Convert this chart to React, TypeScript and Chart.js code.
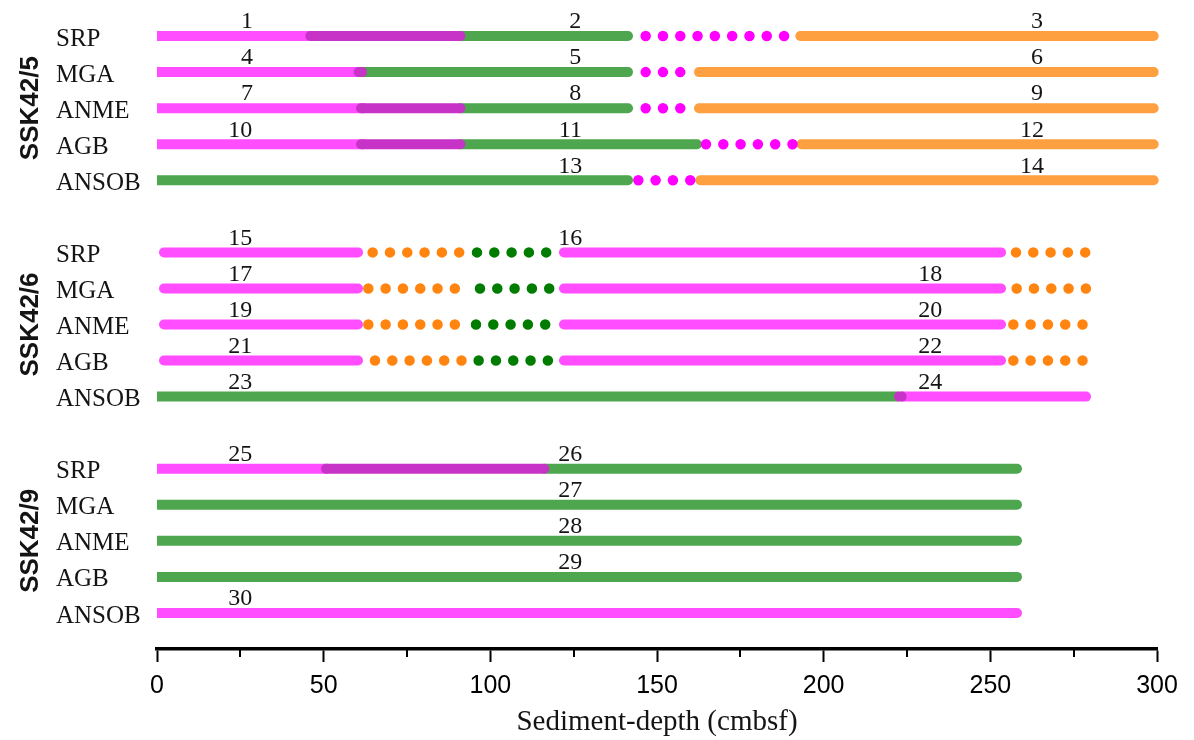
import React, { useEffect, useRef } from "react";
import { Chart, registerables } from "chart.js";

Chart.register(...registerables);

// ---- categories / labels ----
const rowNames = ["SRP", "MGA", "ANME", "AGB", "ANSOB"];
const groupNames = ["SSK42/5", "SSK42/6", "SSK42/9"];
const groupFirstRows = [0, 6, 12];
const groupCenterRows = [2, 8, 14];

// ---- x axis ticks ----
const majorTicks = [0, 50, 100, 150, 200, 250, 300];
const minorTicks = [25, 75, 125, 175, 225, 275];

// ---- segments: [row, startDepth, endDepth] ----
const pinkSegments = [
  [0, 0, 46],
  [1, 0, 61],
  [2, 0, 62],
  [3, 0, 62],
  [6, 2.1, 60.3],
  [6, 122.1, 253.2],
  [7, 2.1, 60.3],
  [7, 122.1, 253.2],
  [8, 2.1, 60.3],
  [8, 122.1, 253.2],
  [9, 2.1, 60.3],
  [9, 122.1, 253.2],
  [10, 223.6, 278.7],
  [12, 0, 51],
  [16, 0, 258],
];
const purpleSegments = [
  [0, 46, 91],
  [1, 60.5, 61.5],
  [2, 61.2, 91],
  [3, 61.2, 91],
  [10, 222.6, 223.4],
  [12, 50.7, 116.2],
];
const greenSegments = [
  [0, 91, 141.3],
  [1, 61.5, 141.3],
  [2, 91, 141.3],
  [3, 91, 162],
  [4, 0, 141.3],
  [10, 0, 222],
  [12, 116.2, 258],
  [13, 0, 258],
  [14, 0, 258],
  [15, 0, 258],
];
const orangeSegments = [
  [0, 193, 299],
  [1, 162.6, 299],
  [2, 162.6, 299],
  [3, 193.3, 299],
  [4, 163, 299],
];
const pinkDots = [
  [0, 146.6, 188.5],
  [1, 146.6, 158],
  [2, 146.6, 158],
  [3, 164.7, 191.5],
  [4, 144.4, 161],
];
const orangeDots = [
  [6, 64.7, 91.2],
  [6, 257.7, 279],
  [7, 63.4, 90],
  [7, 257.9, 279.2],
  [8, 63.4, 90],
  [8, 256.9, 278.2],
  [9, 65.4, 91.8],
  [9, 256.9, 278.2],
];
const greenDots = [
  [6, 96, 117.3],
  [7, 96.9, 118.2],
  [8, 95.7, 117],
  [9, 96.5, 117.8],
];

// ---- numbered annotations ----
const numberTexts = [
  "1", "2", "3", "4", "5", "6", "7", "8", "9", "10",
  "11", "12", "13", "14", "15", "16", "17", "18", "19", "20",
  "21", "22", "23", "24", "25", "26", "27", "28", "29", "30",
];
const numberRows = [
  0, 0, 0, 1, 1, 1, 2, 2, 2, 3,
  3, 3, 4, 4, 6, 6, 7, 7, 8, 8,
  9, 9, 10, 10, 12, 12, 13, 14, 15, 16,
];
const numberDepths = [
  27, 125.5, 264, 27, 125.5, 264, 27, 125.5, 264, 25,
  124, 262.5, 124, 262.5, 25, 124, 25, 232, 25, 232,
  25, 232, 25, 232, 25, 124, 124, 124, 124, 25,
];

// y tick label table built from row names
const yTickLabels: (string | null)[] = [];
for (let i = 0; i <= 16; i++) yTickLabels.push(null);
groupFirstRows.forEach((first) => {
  rowNames.forEach((n, j) => {
    yTickLabels[first + j] = n;
  });
});

const COLORS = {
  pink: "#FF4DFF",
  purple: "#C633C6",
  green: "#4EA64E",
  orange: "#FFA040",
  pinkDot: "#FF00FF",
  orangeDot: "#FF8410",
  greenDot: "#007D00",
};

const LINE_W = 10;
const DOT_W = 10.5;
const DOT_GAP = 17.3;

function makeSets(segs: number[][], color: string, order: number, dotted: boolean) {
  return segs.map((s) => ({
    data: [
      { x: s[1], y: s[0] },
      { x: s[2], y: s[0] },
    ],
    borderColor: color,
    backgroundColor: color,
    borderWidth: dotted ? DOT_W : LINE_W,
    borderCapStyle: "round" as const,
    borderDash: dotted ? [0, DOT_GAP] : [],
    pointRadius: 0,
    pointHoverRadius: 0,
    fill: false,
    tension: 0,
    order,
    clip: { left: 0, top: 12, right: 12, bottom: 12 },
  }));
}

const overlayPlugin = {
  id: "overlay",
  afterDraw(chart: any) {
    const { ctx, chartArea } = chart;
    const x = chart.scales.x;
    const y = chart.scales.y;
    ctx.save();
    // minor ticks
    ctx.strokeStyle = "#000";
    ctx.lineWidth = 2;
    minorTicks.forEach((v) => {
      const px = Math.round(x.getPixelForValue(v));
      ctx.beginPath();
      ctx.moveTo(px, chartArea.bottom);
      ctx.lineTo(px, chartArea.bottom + 8);
      ctx.stroke();
    });
    // numbers
    ctx.fillStyle = "#141414";
    ctx.font = '24px "Liberation Serif"';
    ctx.textAlign = "center";
    ctx.textBaseline = "middle";
    numberTexts.forEach((t, i) => {
      ctx.fillText(t, x.getPixelForValue(numberDepths[i]), y.getPixelForValue(numberRows[i]) - 14);
    });
    // group labels
    ctx.font = 'bold 26px "Liberation Sans"';
    groupNames.forEach((g, i) => {
      ctx.save();
      ctx.translate(31, y.getPixelForValue(groupCenterRows[i]));
      ctx.rotate(-Math.PI / 2);
      ctx.fillText(g, 0, 0);
      ctx.restore();
    });
    ctx.restore();
  },
};

export default function App() {
  const ref = useRef<HTMLCanvasElement>(null);
  useEffect(() => {
    if (!ref.current) return;
    const datasets = [
      ...makeSets(pinkDots, COLORS.pinkDot, 0, true),
      ...makeSets(orangeDots, COLORS.orangeDot, 0, true),
      ...makeSets(greenDots, COLORS.greenDot, 0, true),
      ...makeSets(purpleSegments, COLORS.purple, 1, false),
      ...makeSets(greenSegments, COLORS.green, 2, false),
      ...makeSets(orangeSegments, COLORS.orange, 3, false),
      ...makeSets(pinkSegments, COLORS.pink, 4, false),
    ];
    const chart = new Chart(ref.current, {
      type: "line",
      data: { datasets: datasets as any },
      options: {
        animation: false,
        responsive: false,
        events: [],
        layout: { padding: { left: 56, right: 37, top: 0, bottom: 0 } },
        plugins: {
          legend: { display: false },
          tooltip: { enabled: false },
        },
        scales: {
          x: {
            type: "linear",
            position: "bottom",
            min: 0,
            max: 300,
            afterFit: (s: any) => {
              s.height = 91;
              s.paddingLeft = 0;
              s.paddingRight = 0;
            },
            ticks: {
              stepSize: 25,
              autoSkip: false,
              maxRotation: 0,
              padding: 9,
              color: "#000",
              font: { family: '"Liberation Sans Narrow", "Liberation Sans"', size: 25 },
              callback: (v: any) => (majorTicks.includes(Number(v)) ? String(v) : ""),
            },
            grid: {
              drawOnChartArea: false,
              tickLength: 13,
              tickWidth: 2,
              tickColor: (c: any) =>
                c.tick && majorTicks.includes(c.tick.value) ? "#000" : "rgba(0,0,0,0)",
            },
            border: { color: "#000", width: 3.5 },
            title: {
              display: true,
              text: "Sediment-depth (cmbsf)",
              color: "#141414",
              font: { family: '"Liberation Serif"', size: 29 },
              padding: { top: 0, bottom: 0 },
            },
          },
          y: {
            type: "linear",
            position: "left",
            reverse: true,
            min: -1,
            max: 17,
            afterFit: (s: any) => {
              s.width = 101;
              s.paddingTop = 0;
              s.paddingBottom = 0;
            },
            ticks: {
              stepSize: 1,
              autoSkip: false,
              crossAlign: "far",
              labelOffset: 3,
              color: "#141414",
              font: { family: '"Liberation Serif"', size: 25 },
              callback: (v: any) => {
                const l = yTickLabels[Number(v)];
                return l === undefined ? null : l;
              },
            },
            grid: { display: false },
            border: { display: false },
          },
        },
      } as any,
      plugins: [overlayPlugin],
    });
    return () => chart.destroy();
  }, []);

  return (
    <div
      style={{
        position: "fixed",
        left: 0,
        top: 0,
        width: 1194,
        height: 740,
        background: "#fff",
      }}
    >
      <canvas ref={ref} width={1194} height={740} style={{ width: 1194, height: 740, display: "block" }} />
    </div>
  );
}
